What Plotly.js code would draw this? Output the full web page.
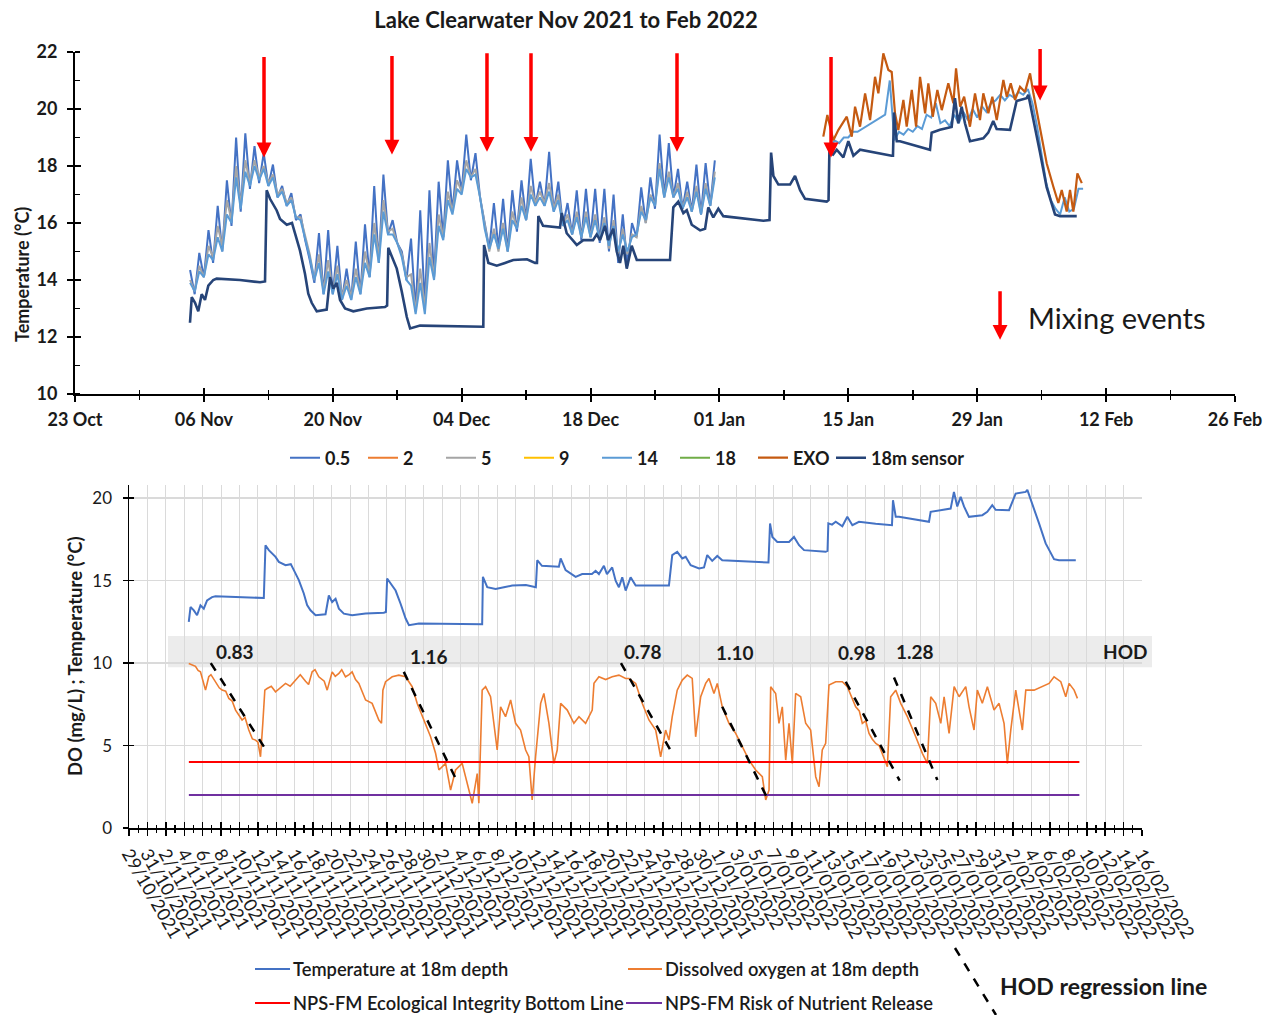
<!DOCTYPE html>
<html>
<head>
<meta charset="utf-8">
<script src="https://cdn.plot.ly/plotly-3.0.1.min.js"></script>
<style>html,body{margin:0;padding:0;background:#fff;}#chart{width:1277px;height:1015px;}</style>
</head>
<body>
<div id="chart"></div>
<script>
// ================= DATA =================
// All day offsets are counted from 1 Nov 2021 00:00.
const seriesNames = ['0.5', '2', '5', '9', '14', '18', 'EXO', '18m sensor'];

// Temperature at 0.5 m, every 12 h starting 4 Nov 2021 12:00
const t05Start = 3.5;
const t05 = [14.35,
 13.5,14.95, 14.1,15.75, 14.6,16.6, 15.0,17.5, 15.9,19.0, 16.4,19.15, 17.2,18.7, 17.4,18.45, 17.3,18.05, 16.9,17.3,
 16.6,17.05, 16.1,16.3, 15.4,14.7, 13.9,15.65, 13.5,15.75, 13.5,15.2, 13.3,14.4, 13.3,15.35, 13.5,15.95, 14.1,17.3,
 14.6,17.7, 15.6,16.1, 15.3,15.0, 14.0,15.45, 12.9,16.45, 13.1,17.15,
 14.1,17.45, 15.5,18.2, 16.4,18.2, 17.1,19.1, 17.5,18.45, 16.9,16.0, 15.1,16.7, 15.1,16.85, 15.0,17.15, 15.7,17.5,
 16.1,18.25, 16.6,17.45, 16.6,18.5, 16.4,17.45, 15.9,16.7, 15.6,17.15, 15.4,17.2, 15.5,17.2, 15.3,17.2, 15.0,17.0,
 14.6,16.3, 14.5,16.0, 15.5,17.25, 16.0,17.6, 16.5,19.1, 16.9,18.8, 16.9,17.9, 16.5,17.45, 16.4,18.05, 16.3,18.1, 16.6,18.2];

// Temperature at 5 m, every 12 h starting 4 Nov 2021 12:00
const t5Start = 3.5;
const t5 = [14.0,
 13.6,14.5, 14.1,15.2, 14.8,15.9, 15.2,16.8, 16.1,18.0, 16.6,18.2, 17.4,18.2, 17.6,18.0, 17.4,17.7, 17.0,17.2,
 16.7,16.9, 16.2,16.2, 15.5,14.9, 14.0,14.9, 13.6,14.7, 13.6,14.5, 13.4,14.0, 13.4,14.4, 13.6,15.0, 14.2,16.0,
 14.8,16.8, 15.7,15.8, 15.3,14.9, 14.1,14.2, 12.9,14.4, 13.0,15.3,
 14.1,16.3, 15.5,17.1, 16.4,17.5, 17.1,18.2, 17.6,17.9, 16.9,15.9, 15.0,15.8, 15.0,16.0, 15.0,16.4, 15.8,16.9,
 16.1,17.3, 16.7,17.1, 16.7,17.4, 16.5,17.0, 15.9,16.3, 15.6,16.4, 15.5,16.4, 15.5,16.3, 15.4,16.2, 15.1,16.1,
 14.9,15.8, 14.9,15.6, 15.5,16.6, 16.0,17.0, 16.6,18.1, 16.9,17.8, 16.9,17.4, 16.5,17.1, 16.4,17.3, 16.3,17.4, 16.6,17.8];

// Temperature at 14 m, every 12 h: first run from 4 Nov 2021 12:00, second run from 13 Jan 2022 00:00
const t14aStart = 3.5;
const t14a = [13.9,
 13.6,14.3, 14.1,14.9, 14.7,15.5, 15.0,16.3, 16.0,17.6, 16.5,17.8, 17.3,18.0, 17.5,17.9, 17.3,17.6, 16.9,17.1,
 16.6,16.8, 16.2,16.1, 15.5,14.8, 14.0,14.6, 13.5,14.3, 13.5,14.2, 13.3,13.8, 13.3,14.1, 13.5,14.6, 14.1,15.6,
 14.6,16.4, 15.6,15.6, 15.3,14.8, 14.0,13.8, 12.8,13.9, 12.8,14.8,
 14.0,15.9, 15.4,16.8, 16.3,17.2, 17.0,17.9, 17.6,17.7, 16.9,15.8, 15.1,15.6, 15.1,15.8, 15.0,16.1, 15.8,16.6,
 16.1,17.0, 16.6,16.9, 16.6,17.1, 16.4,16.8, 15.9,16.1, 15.6,16.2, 15.5,16.2, 15.5,16.1, 15.4,16.0, 15.2,15.9,
 15.0,15.6, 15.0,15.5, 15.6,16.4, 16.1,16.9, 16.6,17.9, 16.9,17.6, 16.9,17.2, 16.5,16.9, 16.4,17.1, 16.3,17.2, 16.6,17.6];
const t14bStart = 73.0;
const t14b = [18.6,18.9, 18.8,19.0, 19.0,19.2, 19.2,19.3, 19.4,19.5, 19.6,19.7, 19.8,21.0, 18.9,19.2, 19.1,19.3,
 19.2,19.4, 19.3,19.8, 19.7,20.2, 19.5,19.6, 19.4,19.8, 19.5,19.9, 19.6,20.0, 19.7,20.1, 19.9,20.2, 20.3,20.5,
 20.3,20.5, 20.4,20.6, 20.5,20.7, 20.2,19.4, 18.4,17.4, 16.8,16.5, 16.3,16.9, 16.4,16.5, 17.2,17.2];

// EXO sonde temperature
const exoDay = [72.28,72.72,73.37,73.91,74.83,75.37,75.73,76.27,76.82,77.36,77.9,78.26,78.8,79.35,79.71,80.07,80.43,80.98,81.34,81.89,
 82.36,82.79,83.34,83.69,84.17,84.67,85.15,85.86,86.41,86.7,87.14,87.58,88.21,88.76,89.3,89.66,90.21,90.64,91.12,91.84,
 92.21,92.64,93.11,93.65,94.19,94.74,95.1,95.82,96.55,97.27,97.81,98.18,98.72,99.08,99.44,99.88,100.36];
const exoVal = [19.03,19.79,18.9,19.26,19.73,19.03,20.08,19.38,20.55,19.61,21.13,20.55,21.95,21.37,21.3,19.85,19.26,20.32,19.38,20.67,
 19.38,21.13,19.85,20.9,19.73,20.67,19.96,20.9,20.2,21.43,20.08,20.43,19.38,20.55,19.61,20.55,19.85,20.43,19.61,21.02,
 20.43,20.9,20.32,20.78,20.6,21.25,20.55,19.26,18.09,17.27,16.7,17.16,16.4,17.16,16.4,17.74,17.4];

// 18 m sensor temperature (also "Temperature at 18m depth" in the lower chart)
const sensorDay = [3.49,3.68,4.04,4.39,4.76,5.12,5.48,6.02,6.39,8.92,11.1,11.64,11.82,12.18,12.91,13.27,14.0,14.57,14.9,15.44,
 15.98,16.34,16.71,17.26,18.34,18.7,19.06,19.43,19.79,20.33,21.23,22.69,24.67,24.9,25.03,25.4,25.95,26.49,27.04,27.4,
 28.48,35.35,35.43,35.9,36.81,37.71,38.61,40.1,40.97,41.18,41.33,41.84,43.68,43.87,44.41,45.5,46.21,47.27,47.67,48.03,
 48.57,48.9,49.47,49.84,50.2,50.56,50.93,51.47,52.02,53.1,55.63,55.99,56.53,57.08,57.45,57.99,58.9,59.44,59.79,60.33,
 60.88,61.42,65.77,66.44,66.61,66.86,67.4,68.67,69.21,69.76,70.3,72.65,72.85,72.94,73.34,73.74,74.46,75.0,75.55,76.27,
 78.08,79.71,79.85,79.96,80.26,80.61,83.87,84.05,84.95,86.22,86.58,86.94,87.31,87.67,88.21,89.66,90.2,90.74,91.11,92.56,
 93.28,94.37,94.55,95.09,95.82,96.54,97.26,97.45,97.99,99.81];
const sensorVal = [12.5,13.4,13.2,12.9,13.5,13.3,13.8,14.0,14.05,14.0,13.92,13.95,17.15,16.85,16.44,16.14,15.94,16.0,15.64,15.03,
 14.22,13.52,13.2,12.9,12.96,14.1,13.7,13.9,13.3,13.0,12.9,13.0,13.05,13.1,15.13,14.83,14.4,13.6,12.7,12.3,
 12.4,12.36,15.23,14.6,14.5,14.6,14.7,14.73,14.6,14.6,16.24,15.9,15.84,16.35,15.64,15.23,15.4,15.4,15.6,15.4,
 15.9,15.4,15.8,15.0,14.6,15.2,14.4,15.2,14.7,14.7,14.7,16.55,16.75,16.35,16.45,15.94,15.74,15.8,16.55,16.2,
 16.5,16.24,16.08,16.1,18.47,17.65,17.35,17.35,17.65,17.15,16.85,16.75,16.8,18.47,18.4,18.57,18.3,18.87,18.36,18.57,
 18.45,18.36,18.36,19.88,18.87,18.87,18.57,19.17,19.27,19.37,20.38,19.5,20.08,19.5,18.87,18.97,19.17,19.58,19.3,19.27,
 20.28,20.38,20.5,19.68,18.47,17.26,16.55,16.3,16.24,16.24];

// Dissolved oxygen at 18 m (mg/L)
const doDay = [3.49,4.22,4.5,4.76,5.31,5.66,5.9,6.39,6.8,7.11, 7.5,7.84,8.2,8.57,8.9,9.28,9.6,10.01,10.4,10.74,
 11.0,11.28,11.53,11.75,12.0,12.45,12.91,13.4,14.0,14.5, 15.08,15.6,16.17,16.5,16.89,17.2,17.61,18.2,18.52,19.06,
 19.4,19.79,20.1,20.51,20.9,21.23,21.6,21.96,22.69,
 23.4,24.13,24.42,24.57,24.86,25.58,26.3,27.03,27.75,28.29,
 29.02,29.75,30.29,30.65,31.38,31.92,32.46,33.18,33.91,34.27,34.81,34.99,35.35,35.72,36.26,36.62,36.98,37.35,37.89,38.44,
 38.98,39.52,40.07,40.42,40.78,41.15,41.7,42.05,42.6,43.14,43.5,43.87,44.59,45.31,45.86,46.58,47.3,47.49,48.03,48.76,
 49.47,50.2,50.93,51.29,52.02,52.73,53.46,54.19,54.73,55.27,55.63,55.99,56.53,57.08,57.62,58.16,58.53,59.08,59.62,59.98,
 60.52,60.88,61.42,62.15,62.88,63.6,64.32,65.05,65.77,66.14,66.5,66.68,67.22,67.58,67.94,68.31,68.67,69.03,69.39,69.94,
 70.48,71.02,71.57,71.93,72.28,72.65,73.01,73.74,74.46,75.0,75.45,75.91,76.3,76.63,77.0,77.36,77.7,78.09,78.45,78.8,
 79.35,79.71,80.26,80.8,81.52,
 82.43,83.15,83.69,84.06,84.6,85.15,85.51,86.05,86.6,87.14,87.86,88.22,88.76,89.12,89.66,90.21,90.93,91.48,92.02,92.38,
 92.75,93.29,94.01,94.38,95.28,96.18,96.91,97.45,98.18,98.72,99.08,99.63,99.99];
const doVal = [9.98,9.8,9.55,9.47,8.36,9.17,9.3,8.87,8.5,8.36, 8.3,7.86,7.7,7.15,6.9,6.55,6.7,5.94,5.4,5.33,
 5.2,4.32,6.35,8.36,8.46,8.6,8.26,8.5,8.77,8.6, 8.97,9.3,8.9,8.7,9.47,9.6,9.17,8.9,8.36,9.47,
 9.2,9.37,9.6,9.17,9.3,9.47,9.0,8.77,7.76,
 7.56,6.55,6.35,8.36,8.87,9.17,9.27,9.17,8.57,7.56,
 6.55,5.53,4.53,3.52,3.92,2.3,3.52,3.92,2.3,1.5,3.3,1.5,8.36,8.57,7.96,6.35,4.73,7.35,6.75,7.76,
 6.35,5.94,4.73,4.32,1.7,4.32,7.56,8.16,6.35,3.92,4.73,7.56,7.15,6.35,6.75,6.35,7.15,8.77,9.17,9.0,
 9.17,9.27,9.07,9.07,8.77,7.56,6.55,5.94,4.32,5.94,5.33,6.75,8.36,8.97,9.27,9.07,5.53,7.96,8.77,9.07,
 8.16,8.77,7.35,6.35,5.74,4.93,4.12,3.52,3.11,1.7,2.3,8.57,8.16,6.35,7.35,4.12,6.35,3.92,8.16,7.96,
 6.35,5.94,3.11,2.5,4.73,5.13,8.67,8.87,8.87,8.57,8.0,7.35,7.1,6.35,6.5,5.74,5.4,5.13,5.0,4.53,
 3.72,7.96,8.36,7.56,6.75,
 5.53,4.53,3.92,7.96,7.56,6.35,7.96,5.74,8.57,7.96,8.57,7.35,5.94,8.36,7.56,8.57,7.15,7.56,6.35,3.92,
 5.94,8.36,5.94,8.36,8.36,8.57,8.77,9.17,8.87,7.96,8.77,8.36,7.86];

// NPS-FM thresholds (mg/L) over the record
const limitDays = [3.5, 100.2];
const ecoBottomLine = [4, 4];
const nutrientRelease = [2, 2];

// HOD regression lines (mg/L per day)
const hodRates = ['0.83', '1.16', '0.78', '1.10', '0.98', '1.28'];
const hodStartDay = [5.88, 26.84, 50.42, 61.42, 74.83, 80.07];
const hodStartVal = [10.0, 9.47, 10.0, 7.35, 8.87, 9.13];
const hodEndDay = [12.0, 32.82, 55.99, 66.5, 80.69, 84.78];
const hodEndVal = [4.62, 2.6, 4.53, 1.59, 2.87, 2.91];

// Mixing events (day offset, temperature at arrow tip)
const mixDay = [11.53, 25.43, 35.75, 40.53, 56.39, 73.12, 95.83];
const mixTemp = [18.3, 18.4, 18.5, 18.5, 18.5, 18.3, 20.3];

// ================= HELPERS =================
const DAY = 86400000;
const BASE = Date.UTC(2021, 10, 1);
function dstr(d) { return new Date(BASE + d * DAY).toISOString().replace('T', ' ').slice(0, 19); }
function grid(start, n) { const a = []; for (let i = 0; i < n; i++) a.push(dstr(start + 0.5 * i)); return a; }

const W = 1277, H = 1015;
const px = x => x / W, py = y => 1 - y / H;
const FONT = 'Lato, "Open Sans", sans-serif';
const TXT = '#1a1a1a';

const colors = {'0.5':'#4472C4','2':'#ED7D31','5':'#A5A5A5','9':'#FFC000','14':'#5B9BD5','18':'#70AD47','EXO':'#C55A11','18m sensor':'#264478'};

// ================= TRACES =================
const traces = [];
function topTrace(name, x, y, w, leg) {
  return {type:'scatter', mode:'lines', name:name, x:x, y:y, xaxis:'x', yaxis:'y',
          line:{color:colors[name], width:w || 2}, connectgaps:false, hoverinfo:'skip', legend:leg || 'legend'};
}
traces.push(topTrace('0.5', grid(t05Start, t05.length), t05));
traces.push(topTrace('2', [null], [null]));
traces.push(topTrace('5', grid(t5Start, t5.length), t5));
traces.push(topTrace('9', [null], [null]));
traces.push(topTrace('14', grid(t14aStart, t14a.length).concat([null], grid(t14bStart, t14b.length)), t14a.concat([null], t14b)));
traces.push(topTrace('18', [null], [null]));
traces.push(topTrace('EXO', exoDay.map(dstr), exoVal, 2.2));
traces.push(topTrace('18m sensor', sensorDay.map(dstr), sensorVal, 2.6, 'legend2'));

// Lower chart
traces.push({type:'scatter', mode:'lines', name:'Temperature at 18m depth', x:sensorDay.map(dstr), y:sensorVal,
  xaxis:'x2', yaxis:'y2', line:{color:'#4472C4', width:2}, showlegend:false, hoverinfo:'skip'});
traces.push({type:'scatter', mode:'lines', name:'Dissolved oxygen at 18m depth', x:doDay.map(dstr), y:doVal,
  xaxis:'x2', yaxis:'y2', line:{color:'#ED7D31', width:1.6}, showlegend:false, hoverinfo:'skip'});
traces.push({type:'scatter', mode:'lines', name:'NPS-FM Ecological Integrity Bottom Line', x:limitDays.map(dstr), y:ecoBottomLine,
  xaxis:'x2', yaxis:'y2', line:{color:'#FF0000', width:2}, showlegend:false, hoverinfo:'skip'});
traces.push({type:'scatter', mode:'lines', name:'NPS-FM Risk of Nutrient Release', x:limitDays.map(dstr), y:nutrientRelease,
  xaxis:'x2', yaxis:'y2', line:{color:'#7030A0', width:2}, showlegend:false, hoverinfo:'skip'});
hodRates.forEach((r, i) => {
  traces.push({type:'scatter', mode:'lines', name:'HOD ' + r, x:[dstr(hodStartDay[i]), dstr(hodEndDay[i])], y:[hodStartVal[i], hodEndVal[i]],
    xaxis:'x2', yaxis:'y2', line:{color:'#000', width:2.5, dash:'dash'}, showlegend:false, hoverinfo:'skip'});
});
// helper traces so the overlay axes (inner half of crossing ticks) exist
traces.push({type:'scatter', mode:'lines', x:[], y:[], xaxis:'x3', yaxis:'y3', showlegend:false, hoverinfo:'skip'});
traces.push({type:'scatter', mode:'lines', x:[], y:[], xaxis:'x4', yaxis:'y4', showlegend:false, hoverinfo:'skip'});

// ================= LAYOUT =================
const topXDomain = [px(75), px(1235)], topYDomain = [py(394), py(52)];
const botXDomain = [px(129), px(1142)], botYDomain = [py(828), py(485)];
const topXRange = ['2021-10-23', '2022-02-26'];
const botXRange = ['2021-10-29', '2022-02-16'];

const tickBold = {family:FONT, size:18, weight:'bold', color:TXT};
const legendFont = {family:FONT, size:18, weight:'bold', color:TXT};

const layout = {
  width:W, height:H, margin:{l:0, r:0, t:0, b:0, pad:0},
  paper_bgcolor:'#fff', plot_bgcolor:'rgba(0,0,0,0)',
  font:{family:FONT, color:TXT},
  title:{text:'Lake Clearwater Nov 2021 to Feb 2022', x:px(566), xanchor:'center', y:py(20), yanchor:'middle',
         xref:'paper', yref:'paper', font:{family:FONT, size:22, weight:'bold', color:TXT}},
  showlegend:true,
  legend:{orientation:'h', x:px(285), xanchor:'left', y:py(458), yanchor:'middle', bgcolor:'rgba(0,0,0,0)',
          font:legendFont, itemwidth:30, traceorder:'normal', entrywidth:33, entrywidthmode:'pixels'},
  legend2:{orientation:'h', x:px(831), xanchor:'left', y:py(458), yanchor:'middle', bgcolor:'rgba(0,0,0,0)',
          font:legendFont, itemwidth:30},
  xaxis:{domain:topXDomain, anchor:'y', type:'date', range:topXRange, tick0:'2021-10-23', dtick:14*DAY, tickformat:'%d %b',
         ticks:'outside', ticklen:6, tickwidth:2, tickcolor:'#000', showline:true, linewidth:2, linecolor:'#000',
         showgrid:false, zeroline:false, tickfont:tickBold, ticklabelstandoff:2,
         minor:{tick0:'2021-10-23', dtick:7*DAY, ticks:'outside', ticklen:4, tickwidth:1.5, tickcolor:'#000', showgrid:false},
         fixedrange:true},
  yaxis:{domain:topYDomain, anchor:'x', range:[10, 22], dtick:2, ticks:'outside', ticklen:6, tickwidth:2, tickcolor:'#000',
         showline:true, linewidth:2, linecolor:'#000', showgrid:false, zeroline:false, tickfont:tickBold, ticklabelstandoff:6,
         minor:{dtick:1, ticks:'inside', ticklen:5, tickwidth:1.5, tickcolor:'#000', showgrid:false}, fixedrange:true},
  xaxis3:{overlaying:'x', anchor:'y', type:'date', range:topXRange, tick0:'2021-10-23', dtick:14*DAY,
          ticks:'inside', ticklen:6, tickwidth:2, tickcolor:'#000', showticklabels:false, showline:false, showgrid:false, zeroline:false,
          minor:{tick0:'2021-10-23', dtick:7*DAY, ticks:'inside', ticklen:4, tickwidth:1.5, tickcolor:'#000', showgrid:false}, fixedrange:true},
  yaxis3:{overlaying:'y', anchor:'x', range:[10, 22], dtick:2, ticks:'inside', ticklen:6, tickwidth:2, tickcolor:'#000',
          showticklabels:false, showline:false, showgrid:false, zeroline:false, fixedrange:true},

  xaxis2:{domain:botXDomain, anchor:'y2', type:'date', range:botXRange, tick0:'2021-10-29', dtick:2*DAY, tickformat:'%-d/%m/%Y',
          tickangle:60, ticks:'outside', ticklen:6, tickwidth:1.5, tickcolor:'#000', showline:true, linewidth:1.5, linecolor:'#000',
          showgrid:true, gridcolor:'#DADADA', gridwidth:1, zeroline:false,
          tickfont:{family:FONT, size:18, color:TXT}, ticklabelstandoff:1,
          minor:{tick0:'2021-10-29', dtick:DAY, ticks:'outside', ticklen:3, tickwidth:1.2, tickcolor:'#000', showgrid:false},
          fixedrange:true},
  yaxis2:{domain:botYDomain, anchor:'x2', range:[0, 20.8], dtick:5, ticks:'outside', ticklen:5, tickwidth:1.5, tickcolor:'#000',
          showline:true, linewidth:1.5, linecolor:'#000', showgrid:true, gridcolor:'#DADADA', gridwidth:1.5, zeroline:false,
          tickfont:{family:FONT, size:17, color:TXT}, ticklabelstandoff:7, fixedrange:true},
  xaxis4:{overlaying:'x2', anchor:'y2', type:'date', range:botXRange, tick0:'2021-10-29', dtick:2*DAY,
          ticks:'inside', ticklen:6, tickwidth:1.5, tickcolor:'#000', showticklabels:false, showline:false, showgrid:false, zeroline:false,
          minor:{tick0:'2021-10-29', dtick:DAY, ticks:'inside', ticklen:3, tickwidth:1.2, tickcolor:'#000', showgrid:false}, fixedrange:true},
  yaxis4:{overlaying:'y2', anchor:'x2', range:[0, 20.8], dtick:5, ticks:'inside', ticklen:5, tickwidth:1.5, tickcolor:'#000',
          showticklabels:false, showline:false, showgrid:false, zeroline:false, fixedrange:true},
  shapes:[], annotations:[]
};

// grey label band behind the HOD rates
layout.shapes.push({type:'rect', xref:'paper', yref:'y2', x0:px(168), x1:px(1152), y0:9.75, y1:11.65,
  fillcolor:'#ECECEC', line:{width:0}, layer:'between'});

// y-axis titles
layout.annotations.push({xref:'paper', yref:'paper', x:px(22), y:py(275), text:'Temperature (°C)', textangle:-90, showarrow:false,
  xanchor:'center', yanchor:'middle', font:{family:FONT, size:18, weight:'bold', color:TXT}});
layout.annotations.push({xref:'paper', yref:'paper', x:px(75), y:py(656), text:'DO (mg/L) ; Temperature (°C)', textangle:-90, showarrow:false,
  xanchor:'center', yanchor:'middle', font:{family:FONT, size:18.5, weight:'bold', color:TXT}});

// mixing event arrows
const arrowLen = [102, 100, 100, 100, 100, 102, 53];
mixDay.forEach((d, i) => {
  layout.annotations.push({xref:'x', yref:'y', x:dstr(d), y:mixTemp[i], ax:0, ay:-arrowLen[i], text:'', showarrow:true,
    arrowhead:2, arrowsize:0.85, arrowwidth:3.5, arrowcolor:'#FF0000', standoff:0});
});
// mixing events key
layout.annotations.push({xref:'x', yref:'y', x:dstr(91.48), y:11.9, ax:0, ay:-50, text:'', showarrow:true,
  arrowhead:2, arrowsize:0.85, arrowwidth:3.5, arrowcolor:'#FF0000', standoff:0});
layout.annotations.push({xref:'paper', yref:'paper', x:px(1026), y:py(318), text:'Mixing events', showarrow:false,
  xanchor:'left', yanchor:'middle', font:{family:FONT, size:29, color:TXT}});

// HOD rate labels
const hodLabelDay = [8.49, 29.56, 52.81, 62.8, 76.05, 82.35];
const hodLabelY = [10.73, 10.42, 10.73, 10.67, 10.67, 10.73];
hodRates.forEach((r, i) => {
  layout.annotations.push({xref:'x2', yref:'y2', x:dstr(hodLabelDay[i]), y:hodLabelY[i], text:r, showarrow:false,
    xanchor:'center', yanchor:'middle', font:{family:FONT, size:19, weight:'bold', color:TXT}});
});
layout.annotations.push({xref:'paper', yref:'y2', x:px(1125), y:10.73, text:'HOD', showarrow:false,
  xanchor:'center', yanchor:'middle', font:{family:FONT, size:19, weight:'bold', color:TXT}});

// lower legend (drawn as key lines + labels)
const lowKey = [
  {label:'Temperature at 18m depth', color:'#4472C4', x0:255, x1:290, y:969},
  {label:'Dissolved oxygen at 18m depth', color:'#ED7D31', x0:628, x1:662, y:969},
  {label:'NPS-FM Ecological Integrity Bottom Line', color:'#FF0000', x0:255, x1:290, y:1003},
  {label:'NPS-FM Risk of Nutrient Release', color:'#7030A0', x0:626, x1:662, y:1003}
];
lowKey.forEach(k => {
  layout.shapes.push({type:'line', xref:'paper', yref:'paper', x0:px(k.x0), x1:px(k.x1), y0:py(k.y), y1:py(k.y),
    line:{color:k.color, width:2}});
  layout.annotations.push({xref:'paper', yref:'paper', x:px(k.x1 + 1), y:py(k.y), text:k.label, showarrow:false,
    xanchor:'left', yanchor:'middle', font:{family:FONT, size:18.3, weight:600, color:TXT}});
});
layout.shapes.push({type:'line', xref:'paper', yref:'paper', x0:px(955), y0:py(948), x1:px(996), y1:py(1015),
  line:{color:'#000', width:2.5, dash:'dash'}});
layout.annotations.push({xref:'paper', yref:'paper', x:px(998), y:py(986), text:'HOD regression line', showarrow:false,
  xanchor:'left', yanchor:'middle', font:{family:FONT, size:23, weight:'bold', color:TXT}});

Plotly.newPlot('chart', traces, layout, {displayModeBar:false, staticPlot:true});
</script>
</body>
</html>
